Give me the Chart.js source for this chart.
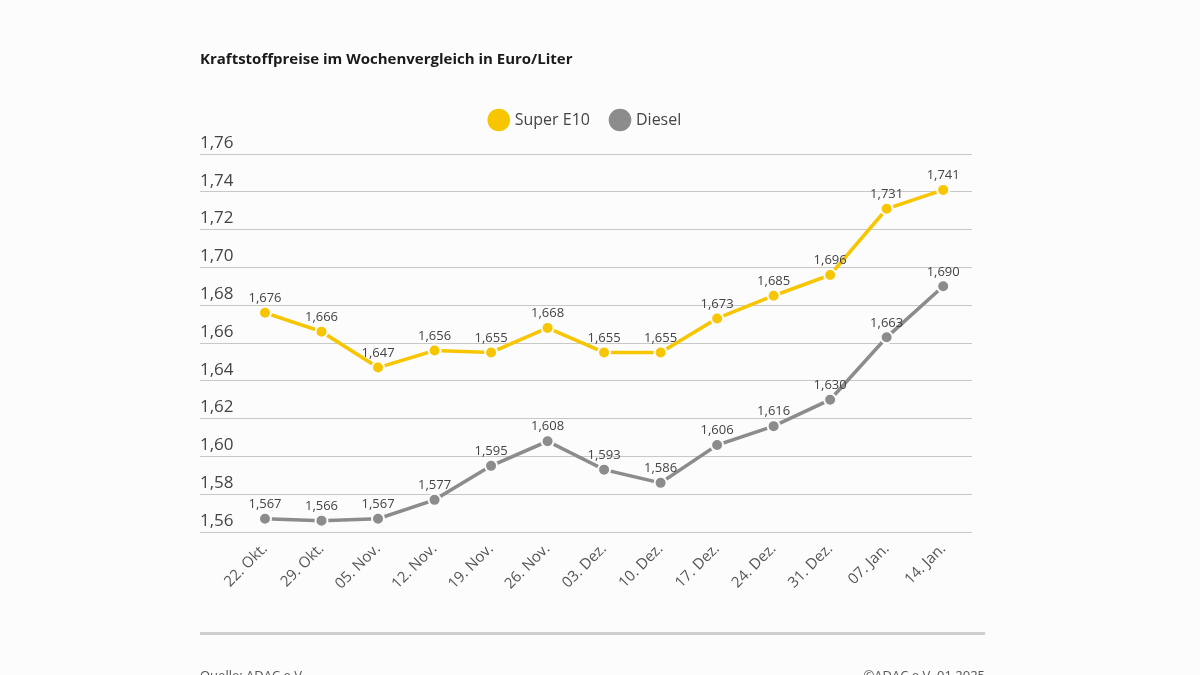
<!DOCTYPE html>
<html lang="de">
<head>
<meta charset="utf-8">
<title>Kraftstoffpreise</title>
<script src="https://cdn.jsdelivr.net/npm/chart.js@4.4.1/dist/chart.umd.min.js"></script>
<style>
  html, body { margin: 0; padding: 0; background: #fcfcfc; }
  #wrap { position: relative; width: 1200px; height: 675px; overflow: hidden; }
  #chart { position: absolute; left: 0; top: 0; }
  .rule { position: absolute; left: 200px; top: 632px; width: 785px; height: 3px; background: #cfcfcf; }
  .foot { position: absolute; top: 666px; font: 13px "Open Sans", sans-serif; color: #555; }
</style>
</head>
<body>
<div id="wrap">
  <canvas id="chart" width="1200" height="675"></canvas>
  <div class="rule"></div>
  <div class="foot" style="left:200px">Quelle: ADAC e.V.</div>
  <div class="foot" style="right:215px">©ADAC e.V. 01.2025</div>
</div>
<script>
// week labels and prices (Euro/Liter)
const weeks = ['22. Okt.', '29. Okt.', '05. Nov.', '12. Nov.', '19. Nov.', '26. Nov.', '03. Dez.',
               '10. Dez.', '17. Dez.', '24. Dez.', '31. Dez.', '07. Jan.', '14. Jan.'];
const superE10 = [1.676, 1.666, 1.647, 1.656, 1.655, 1.668, 1.655, 1.655, 1.673, 1.685, 1.696, 1.731, 1.741];
const diesel = [1.567, 1.566, 1.567, 1.577, 1.595, 1.608, 1.593, 1.586, 1.606, 1.616, 1.630, 1.663, 1.690];
const yTicks = [1.56, 1.58, 1.60, 1.62, 1.64, 1.66, 1.68, 1.70, 1.72, 1.74, 1.76];

const YELLOW = '#f7c600';
const GREY = '#8c8c8c';

const fmt = v => v.toFixed(3).replace('.', ',');

// value labels above each point
const valueLabels = {
    id: 'valueLabels',
    afterDatasetsDraw(chart) {
        const ctx = chart.ctx;
        ctx.save();
        ctx.font = '13px "Open Sans", sans-serif';
        ctx.fillStyle = '#444';
        ctx.textAlign = 'center';
        ctx.textBaseline = 'bottom';
        chart.data.datasets.forEach((ds, i) => {
            chart.getDatasetMeta(i).data.forEach((pt, j) => {
                ctx.fillText(fmt(ds.data[j].y), pt.x, pt.y - 8);
            });
        });
        ctx.restore();
    }
};

// extra space between legend and plot area
const legendGap = {
    id: 'legendGap',
    beforeInit(chart) {
        const fit = chart.legend.fit;
        chart.legend.fit = function () {
            fit.call(this);
            this.height += 16;
        };
    }
};

const toPoints = arr => arr.map((v, i) => ({ x: i, y: v }));

new Chart(document.getElementById('chart'), {
    type: 'line',
    data: {
        datasets: [
            {
                label: 'Super E10',
                data: toPoints(superE10),
                borderColor: YELLOW,
                backgroundColor: YELLOW,
                borderWidth: 3.5,
                pointRadius: 6,
                pointBorderColor: '#fcfcfc',
                pointBorderWidth: 2,
                pointBackgroundColor: YELLOW
            },
            {
                label: 'Diesel',
                data: toPoints(diesel),
                borderColor: GREY,
                backgroundColor: GREY,
                borderWidth: 3.5,
                pointRadius: 6,
                pointBorderColor: '#fcfcfc',
                pointBorderWidth: 2,
                pointBackgroundColor: GREY
            }
        ]
    },
    options: {
        responsive: false,
        animation: false,
        layout: { padding: { left: 200, right: 228, top: 51, bottom: 0 } },
        plugins: {
            title: {
                display: true,
                text: 'Kraftstoffpreise im Wochenvergleich in Euro/Liter',
                align: 'start',
                color: '#1a1a1a',
                font: { family: '"Liberation Sans Narrow", "Open Sans", sans-serif', size: 15, weight: 'bold' },
                padding: { top: 0, bottom: 21 }
            },
            legend: {
                display: true,
                labels: {
                    usePointStyle: true,
                    pointStyle: 'circle',
                    boxWidth: 18,
                    boxHeight: 18,
                    color: '#444',
                    padding: 22,
                    font: { family: '"Open Sans", sans-serif', size: 16 },
                    generateLabels(chart) {
                        return chart.data.datasets.map((ds, i) => ({
                            text: ds.label,
                            fillStyle: ds.borderColor,
                            strokeStyle: ds.borderColor,
                            lineWidth: 0,
                            pointStyle: 'circle',
                            fontColor: '#444',
                            datasetIndex: i
                        }));
                    }
                }
            },
            tooltip: { enabled: false }
        },
        scales: {
            x: {
                type: 'linear',
                min: -1.15,
                max: 12.51,
                afterBuildTicks(axis) {
                    axis.ticks = weeks.map((w, i) => ({ value: i }));
                },
                afterFit(axis) { axis.height = 143; },
                grid: { display: false },
                border: { display: false },
                ticks: {
                    autoSkip: false,
                    minRotation: 45,
                    maxRotation: 45,
                    padding: 0,
                    color: '#555',
                    font: { family: '"Open Sans", sans-serif', size: 15 },
                    callback: v => weeks[v]
                }
            },
            y: {
                min: 1.56,
                max: 1.76,
                afterBuildTicks(axis) {
                    axis.ticks = yTicks.map(v => ({ value: v }));
                },
                border: { display: false },
                grid: { color: '#c8c8c8', lineWidth: 1, drawTicks: false },
                ticks: {
                    mirror: true,
                    padding: 0,
                    labelOffset: -11,
                    color: '#444',
                    font: { family: '"Open Sans", sans-serif', size: 17 },
                    callback: v => v.toFixed(2).replace('.', ',')
                }
            }
        }
    },
    plugins: [valueLabels, legendGap]
});
</script>
</body>
</html>
